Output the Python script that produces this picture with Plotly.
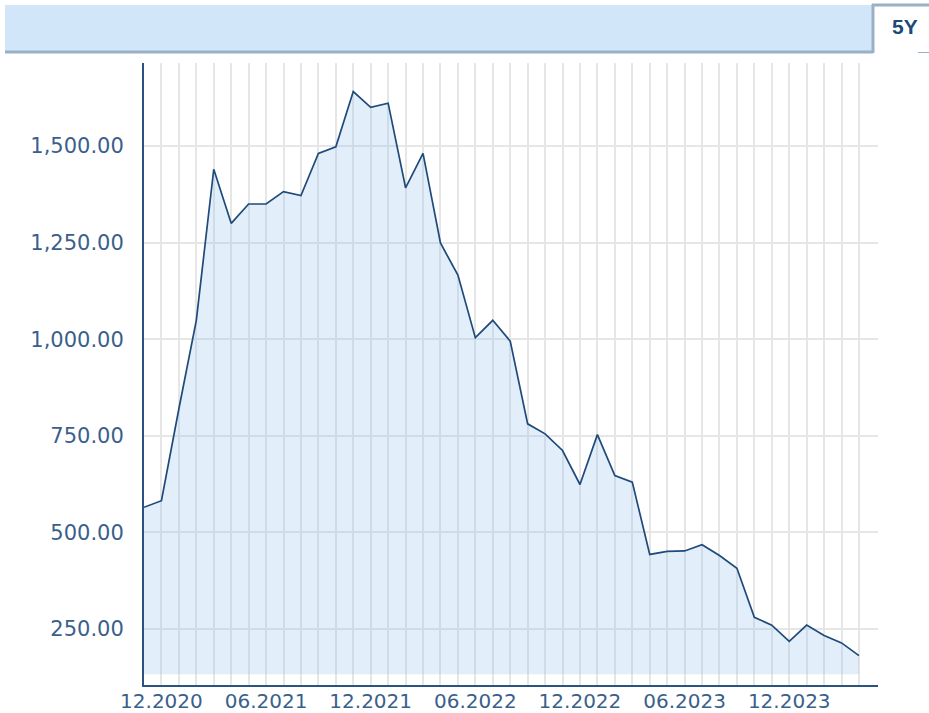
import plotly.graph_objects as go

# ---- data ----
months = [
    "11.2020", "12.2020", "01.2021", "02.2021", "03.2021", "04.2021", "05.2021",
    "06.2021", "07.2021", "08.2021", "09.2021", "10.2021", "11.2021", "12.2021",
    "01.2022", "02.2022", "03.2022", "04.2022", "05.2022", "06.2022", "07.2022",
    "08.2022", "09.2022", "10.2022", "11.2022", "12.2022", "01.2023", "02.2023",
    "03.2023", "04.2023", "05.2023", "06.2023", "07.2023", "08.2023", "09.2023",
    "10.2023", "11.2023", "12.2023", "01.2024", "02.2024", "03.2024", "04.2024",
]
prices = [
    565, 582, 820, 1049, 1440, 1300, 1350, 1350, 1382, 1372,
    1481, 1498, 1641, 1600, 1611, 1392, 1481, 1249, 1166, 1004,
    1049, 995, 781, 755, 712, 624, 753, 647, 630, 443,
    451, 452, 468, 440, 407, 280, 260, 218, 260, 233,
    214, 181,
]
fill_base = 133
x_tick_labels = ["12.2020", "06.2021", "12.2021", "06.2022", "12.2022", "06.2023", "12.2023"]
y_tick_values = [250, 500, 750, 1000, 1250, 1500]
period_label = "5Y"

# ---- layout geometry ----
W, H = 929, 713
ML, MR, MT, MB = 144, 51, 63, 28
PW, PH = W - ML - MR, H - MT - MB


def px_x(x):
    return (x - ML) / PW


def px_y(y):
    return (H - MB - y) / PH


xs = list(range(len(months)))
tick_pos = [months.index(m) for m in x_tick_labels]

fig = go.Figure()
fig.add_trace(go.Scatter(
    x=xs, y=[fill_base] * len(xs), mode="lines",
    line=dict(width=0, color="rgba(0,0,0,0)"), hoverinfo="skip", showlegend=False,
))
fig.add_trace(go.Scatter(
    x=xs, y=prices, mode="lines", fill="tonexty",
    fillcolor="rgba(140,190,235,0.25)",
    line=dict(color="#1f4a7a", width=1.7), showlegend=False,
))

label_font = dict(family="DejaVu Sans", size=21, color="#3a5f8c")
x_label_font = dict(family="DejaVu Sans", size=20, color="#3a5f8c")
border = "#9ab0c6"

shapes = [
    dict(type="rect", xref="paper", yref="paper",
         x0=px_x(5), x1=px_x(872), y0=px_y(51), y1=px_y(5),
         fillcolor="#d1e6f8", line=dict(width=0), layer="above"),
    dict(type="line", xref="paper", yref="paper",
         x0=px_x(5), x1=px_x(873), y0=px_y(52), y1=px_y(52),
         line=dict(color=border, width=3)),
    dict(type="line", xref="paper", yref="paper",
         x0=px_x(873), x1=px_x(873), y0=px_y(53), y1=px_y(4),
         line=dict(color=border, width=3)),
    dict(type="line", xref="paper", yref="paper",
         x0=px_x(872), x1=px_x(929), y0=px_y(5), y1=px_y(5),
         line=dict(color=border, width=3)),
    dict(type="line", xref="paper", yref="paper",
         x0=px_x(918), x1=px_x(929), y0=px_y(52.5), y1=px_y(52.5),
         line=dict(color=border, width=1)),
]

fig.update_layout(
    width=W, height=H,
    margin=dict(l=ML, r=MR, t=MT, b=MB, pad=0, autoexpand=False),
    paper_bgcolor="white", plot_bgcolor="white",
    shapes=shapes,
    annotations=[dict(
        text="<b>%s</b>" % period_label, xref="paper", yref="paper",
        x=px_x(905), y=px_y(27), xanchor="center", yanchor="middle",
        showarrow=False,
        font=dict(family="Liberation Sans, Arial", size=21, color="#1b4a7a"),
    )],
    xaxis=dict(
        range=[0, 42.09], showgrid=True, gridcolor="#e6e6e6", gridwidth=2,
        tickmode="array", tickvals=tick_pos, ticktext=x_tick_labels,
        tickfont=x_label_font, ticks="", showline=True, linecolor="#2b5380",
        linewidth=2, zeroline=False, ticklabelstandoff=-3, automargin=False,
        minor=dict(tickmode="array", tickvals=xs, showgrid=True,
                   gridcolor="#e6e6e6", gridwidth=2, ticks=""),
    ),
    yaxis=dict(
        range=[105, 1715], tickmode="array", tickvals=y_tick_values,
        tickformat=",.2f", tickfont=label_font, showgrid=True,
        gridcolor="#e6e6e6", gridwidth=2, ticks="", showline=True,
        linecolor="#2b5380", linewidth=2, zeroline=False, ticklabelstandoff=14,
        automargin=False,
    ),
)

fig.write_html(
    "out.html",
    config={"displayModeBar": False},
    post_script="document.body.style.margin='0';document.body.style.overflow='hidden';",
)
